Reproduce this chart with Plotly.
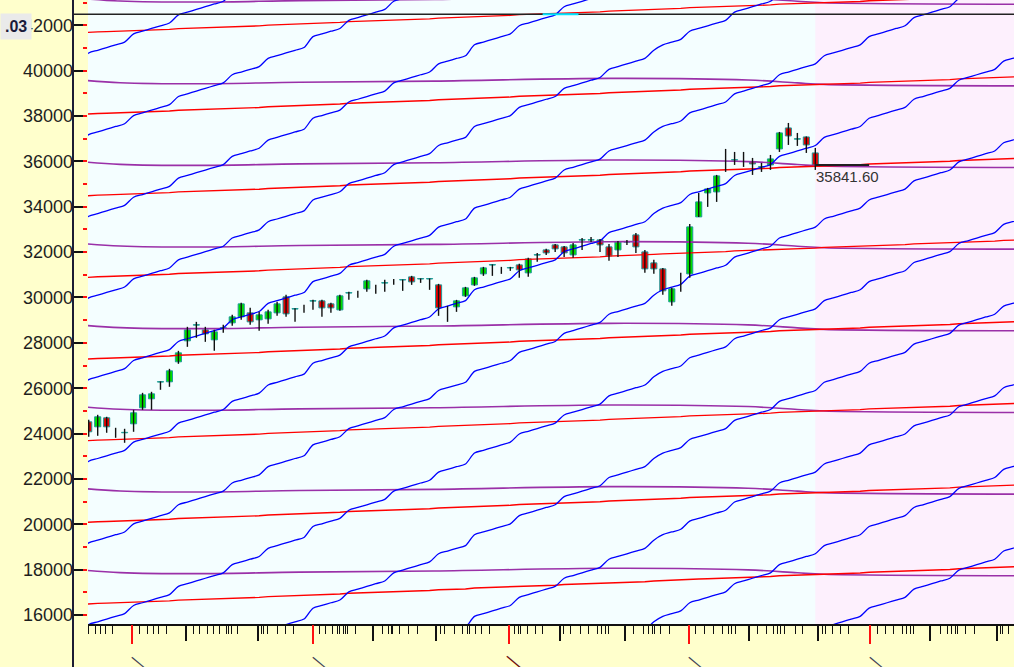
import numpy as np
import pandas as pd
import plotly.graph_objects as go

# ---------------- data ----------------
holidays = ["2020-11-16", "2020-11-30", "2020-12-25", "2021-01-26"]
special_sessions = ["2020-11-14"]          # muhurat session
first_date = "2020-10-23"                 # slot -1 (just left of the plot)
origin_date = "2020-10-26"                # first candle
n_slots = 106

open_ = [24518,24298,24695,24230,24034,24430,25135,25532,26270,26281,
         27163,28088,28780,28573,28132,28650,28881,29146,29322,29014,
         29058,29322,30027,29490,29631,29840,29851,29719,29454,30195,
         30200,30380,30468,30635,30733,30770,30909,30815,30815,30556,
         29500,29587,30071,30556,31041,31430,31305,31300,31437,31085,
         31870,32098,32319,32231,31878,32530,32530,32539,32231,32098,
         32440,32760,32010,31526,31261,29807,30600,31041,33553,34610,
         34655,36153,36055,36065,35977,35750,35844,36550,37475,36980,
         37078,36373]
high = [24607,24827,24739,24254,24210,25047,25796,25841,26300,26854,
        27647,28705,28925,28705,28573,28793,29234,29763,29542,29366,
        29454,29807,30115,29520,29675,29895,29895,29763,30115,30248,
        30292,30776,30556,30776,30820,30790,30953,30840,30840,30600,
        29631,29895,30468,30909,31349,31460,31349,31349,31482,31746,
        31966,32143,32363,32275,32407,32627,32671,32583,32363,32495,
        32539,32848,32098,31658,31305,30424,31085,33244,34610,34831,
        35404,36550,36417,36417,36153,35933,36285,37299,37695,37255,
        37100,36594]
low = [23857,23901,24034,23813,23593,24078,25047,25047,25929,26061,
       27075,27824,28220,28044,27647,28441,28749,29014,28793,28529,
       28837,29190,29146,28925,29322,29454,29146,29322,29410,29895,
       29983,30248,30159,30248,30556,30292,30556,30644,30336,29190,
       28925,29366,30027,30512,30953,30953,31041,31173,30865,30909,
       31570,31878,32010,31790,31746,32098,32451,32010,31614,31790,
       32319,31966,31085,31041,30115,29631,30248,30865,33553,33994,
       34214,35536,35844,35756,35404,35536,35624,36417,36726,36682,
       36373,35624]
close = [24078,24739,24298,24230,24054,24915,25708,25752,26290,26766,
         27559,28573,28800,28397,28485,28670,29146,29719,28925,29234,
         29366,29719,29278,29510,29631,29860,29542,29542,30071,30215,
         30200,30733,30468,30655,30733,30790,30688,30835,30835,29542,
         29500,29851,30424,30865,31305,31450,31305,31320,31217,31702,
         31890,31966,32143,31966,32319,32550,32550,32319,31834,32451,
         32460,32231,31261,31261,30292,30380,30600,33112,34214,34787,
         35360,36153,36075,36065,35889,35770,36109,37255,37122,37000,
         36726,35841.60]

# Gann-style line families (price at the first candle, rise per calendar day)
blue_levels = [-2420, 1180, 4780, 8380, 11980, 15580, 19180, 22780,
               26380, 29980, 33580, 37180, 40780]
blue_per_day = 120
red_levels = [16500, 20100, 23700, 27300, 30900, 34500, 38100, 41700]
red_per_day = 11
purple_levels = [17970, 21570, 25170, 28770, 32370, 35970, 39570, 43170]
purple_shape_slot = [-1, 3.5, 13, 23.5, 38.5, 58, 73.5, 79, 82, 104]
purple_shape_offset = [20, -100, -145, -80, -30, 90, 20, -110, -175, -240]

crosshair_price = 42486.03
crosshair_highlight = [50.6, 54.6]
last_price = 35841.60
last_price_end = 87

y_tick_values = list(range(16000, 42001, 2000))
x_major_ticks = [10.85, 18.87, 31.69, 38.71, 52.54, 59.78, 73.61, 81.3, 93.79, 101.26]
x_red_ticks = [4.83, 25.01, 46.85, 66.93, 87.1]
x_minor_ticks = [0.0,0.7,1.3,1.9,2.7,5.7,6.5,7.2,7.8,8.7,11.7,12.4,13.2,13.9,14.6,
                 15.4,15.6,15.9,16.6,19.3,19.5,19.9,21.0,21.9,22.8,25.7,26.4,27.2,
                 27.7,28.0,28.4,28.6,28.9,29.7,32.7,33.4,33.7,33.9,34.7,35.7,36.7,
                 39.2,39.7,40.8,41.7,42.2,42.5,43.1,43.8,44.7,47.5,47.9,48.1,48.9,
                 49.8,50.6,52.9,53.7,54.8,55.7,56.7,57.2,57.6,57.9,60.7,61.8,62.4,
                 62.8,63.1,63.7,64.8,67.6,68.7,69.6,70.7,71.3,71.7,72.1,74.6,75.6,
                 76.3,76.8,77.1,77.6,78.8,79.6,81.8,82.1,82.9,83.8,84.7,87.9,88.8,
                 89.7,90.7,91.2,91.6,91.9,94.9,95.7,96.2,96.6,96.9,97.7,98.8,101.6,
                 101.9,102.5]

# ---------------- derived ----------------
cal = pd.bdate_range(first_date, "2021-05-31", freq="C", holidays=holidays)
cal = cal.union(pd.DatetimeIndex(special_sessions))[:n_slots]
day_offset = np.asarray((cal - pd.Timestamp(origin_date)).days, dtype=float)
slot = np.arange(-1, n_slots - 1)

Y_MIN, Y_MAX = 15603, 43116
X_MIN, X_MAX = -0.08, 103.15
FIG_W, FIG_H = 1014, 667
M_L, M_B = 73, 43
plot_w = FIG_W - M_L
plot_h = FIG_H - M_B

GREEN = "#00DE00"
RED = "#E60000"
TEAL = "#1F9A9A"
FONT = "Liberation Sans"

fig = go.Figure()

def family(levels, per_day, color, width, shape):
    traces = []
    for lv in levels:
        traces.append(go.Scatter(x=list(slot), y=list(lv + per_day * day_offset), mode="lines",
                                 line=dict(color=color, width=width, shape=shape, smoothing=0.8),
                                 hoverinfo="skip", showlegend=False))
    return traces

for lv in purple_levels:
    fig.add_trace(go.Scatter(x=purple_shape_slot,
                             y=[lv + o for o in purple_shape_offset],
                             mode="lines", line=dict(color="#9A30A8", width=1.6, shape="spline"),
                             hoverinfo="skip", showlegend=False))
fig.add_traces(family(red_levels, red_per_day, "#FF0000", 1.4, "linear"))
fig.add_traces(family(blue_levels, blue_per_day, "#0000FF", 1.3, "spline"))

# wicks
cx = list(range(len(open_)))
wx, wy = [], []
for i in cx:
    wx += [i, i, None]
    wy += [low[i], high[i], None]
fig.add_trace(go.Scatter(x=wx, y=wy, mode="lines", line=dict(color="#111111", width=1.4),
                         hoverinfo="skip", showlegend=False))

up = [i for i in cx if close[i] > open_[i]]
dn = [i for i in cx if close[i] < open_[i]]
fig.add_trace(go.Bar(x=up, y=[close[i] - open_[i] for i in up], base=[open_[i] for i in up],
                     width=0.68, marker=dict(color=GREEN, line=dict(color=TEAL, width=1)),
                     hoverinfo="skip", showlegend=False))
fig.add_trace(go.Bar(x=dn, y=[open_[i] - close[i] for i in dn], base=[close[i] for i in dn],
                     width=0.68, marker=dict(color=RED, line=dict(color=TEAL, width=1)),
                     hoverinfo="skip", showlegend=False))

# helper traces so the overlay axes are drawn
fig.add_trace(go.Scatter(x=[0], y=[30000], xaxis="x2", yaxis="y", mode="markers",
                         marker=dict(opacity=0, size=1), hoverinfo="skip", showlegend=False))
fig.add_trace(go.Scatter(x=[0], y=[30000], xaxis="x", yaxis="y2", mode="markers",
                         marker=dict(opacity=0, size=1), hoverinfo="skip", showlegend=False))

shapes = [
    # future zone
    dict(type="rect", xref="x", yref="paper", x0=cx[-1], x1=X_MAX + 2, y0=0, y1=1,
         fillcolor="#FDF0FD", line=dict(width=0), layer="below"),
    # left axis line (full height)
    dict(type="line", xref="paper", yref="paper", x0=0, x1=0, y0=-M_B / plot_h - 0.01, y1=1,
         line=dict(color="#1C1C34", width=2)),
    # crosshair line
    dict(type="line", xref="paper", yref="paper", x0=0, x1=1,
         y0=(crosshair_price - Y_MIN) / (Y_MAX - Y_MIN), y1=(crosshair_price - Y_MIN) / (Y_MAX - Y_MIN),
         line=dict(color="#222222", width=1.6)),
    dict(type="line", xref="x", yref="y", x0=crosshair_highlight[0], x1=crosshair_highlight[1],
         y0=crosshair_price, y1=crosshair_price, line=dict(color="#00E5FF", width=2)),
    # last price line
    dict(type="line", xref="x", yref="y", x0=cx[-1], x1=last_price_end,
         y0=last_price, y1=last_price, line=dict(color="#202020", width=2)),
]

annotations = [
    dict(xref="x", yref="y", x=cx[-1], y=last_price, xanchor="left", yanchor="top",
         text=f"{last_price:.2f}", showarrow=False, xshift=-1, yshift=-1,
         font=dict(family=FONT, size=15, color="#333333")),
    dict(xref="paper", yref="y", x=-M_L / plot_w, y=crosshair_price, xanchor="left", yanchor="top",
         text="<b>.03</b>", showarrow=False, bgcolor="#EAEAEA", borderpad=4, yshift=1,
         font=dict(family=FONT, size=16, color="#1A1A3A")),
]
for k, t in enumerate(x_red_ticks):
    special = (k == 2)
    annotations.append(dict(xref="x", yref="paper", x=t, y=-(661 - plot_h) / plot_h,
                            xanchor="center", yanchor="middle", xshift=7, text="—",
                            textangle=40, showarrow=False,
                            font=dict(family=FONT, size=19 if special else 17,
                                      color="#6E0C0C" if special else "#404055")))

fig.update_layout(
    width=FIG_W, height=FIG_H,
    margin=dict(l=M_L, r=0, t=0, b=M_B, pad=0),
    paper_bgcolor="#FFFFCC", plot_bgcolor="#F4FEFF",
    barmode="overlay", showlegend=False,
    shapes=shapes, annotations=annotations,
    xaxis=dict(domain=[15 / plot_w, 1], range=[X_MIN, X_MAX], showgrid=False, zeroline=False,
               showline=True, linecolor="#111111", linewidth=2,
               ticks="outside", tickmode="array", tickvals=x_major_ticks, ticklen=15,
               tickwidth=1.5, tickcolor="#111111", showticklabels=False,
               minor=dict(tickmode="array", tickvals=x_minor_ticks, ticks="outside",
                          ticklen=8, tickwidth=1.3, tickcolor="#111111", showgrid=False)),
    xaxis2=dict(overlaying="x", anchor="y", side="bottom", range=[X_MIN, X_MAX],
                showgrid=False, zeroline=False, showline=False, ticks="outside",
                tickmode="array", tickvals=x_red_ticks, ticklen=19, tickwidth=1.6,
                tickcolor="#FF1010", showticklabels=False),
    yaxis=dict(anchor="free", position=0, range=[Y_MIN, Y_MAX], showgrid=False, zeroline=False,
               showline=False, ticks="inside", ticklen=9, tickwidth=1.5, tickcolor="#111111",
               tickmode="array", tickvals=y_tick_values, tickformat="d",
               tickfont=dict(family=FONT, size=18, color="#1E1E1E")),
    yaxis2=dict(overlaying="y", anchor="x", side="left", range=[Y_MIN, Y_MAX],
                showgrid=False, zeroline=False, showline=False, ticks="outside",
                tickmode="linear", tick0=0, dtick=1000, ticklen=4, tickwidth=1.5,
                tickcolor="#FF1010", showticklabels=False),
)

fig.write_html("out.html", config={"displayModeBar": False},
               post_script="document.body.style.margin='0';document.body.style.overflow='hidden';")
